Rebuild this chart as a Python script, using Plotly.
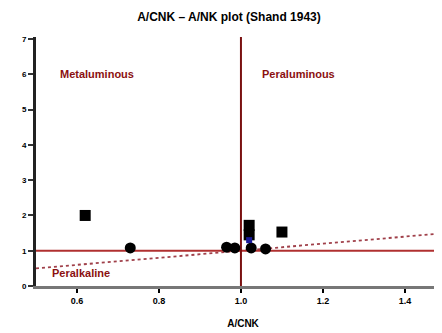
import plotly.graph_objects as go

# Data
acnk = [0.62, 0.73, 0.965, 0.985, 1.02, 1.02, 1.025, 1.06, 1.10]
ank = [2.0, 1.08, 1.10, 1.08, 1.72, 1.45, 1.08, 1.05, 1.53]
symbols = ["square", "circle", "circle", "circle", "square", "square", "circle", "circle", "square"]
blue_x = [1.02]
blue_y = [1.3]
boundary_x = [0.5, 1.52]
boundary_y = [0.5, 1.52]
x_ticks = [0.6, 0.8, 1.0, 1.2, 1.4]
y_ticks = [0, 1, 2, 3, 4, 5, 6, 7]
field_labels = ["Metaluminous", "Peraluminous", "Peralkaline"]
field_x = [0.648, 1.14, 0.61]
field_y = [6.0, 6.0, 0.36]

font = "Liberation Sans, Arial, sans-serif"
dark_red = "#8B1010"

fig = go.Figure()
# boundary lines
fig.add_trace(go.Scatter(x=boundary_x, y=boundary_y, mode="lines",
                         line=dict(color="#A0404A", width=1.8, dash="dot"),
                         hoverinfo="skip", showlegend=False))
fig.add_trace(go.Scatter(x=[0.5, 1.52], y=[1, 1], mode="lines",
                         line=dict(color="#B03030", width=2),
                         hoverinfo="skip", showlegend=False))
fig.add_trace(go.Scatter(x=[1, 1], y=[0, 7.06], mode="lines",
                         line=dict(color="#7A1010", width=2),
                         hoverinfo="skip", showlegend=False))
# samples
fig.add_trace(go.Scatter(x=acnk, y=ank, mode="markers",
                         marker=dict(symbol=symbols, size=11, color="black"),
                         showlegend=False))
fig.add_trace(go.Scatter(x=blue_x, y=blue_y, mode="markers",
                         marker=dict(symbol="square", size=6, color="#1A1A9A"),
                         showlegend=False))

for t, x, y in zip(field_labels, field_x, field_y):
    fig.add_annotation(x=x, y=y, text=t, showarrow=False,
                       font=dict(family=font, size=11, color=dark_red, weight="bold"))

fig.update_layout(
    width=442, height=333,
    margin=dict(l=28, r=0, t=29, b=55),
    paper_bgcolor="white", plot_bgcolor="white",
    title=dict(text="A/CNK – A/NK plot (Shand 1943)", x=0.5, xanchor="center",
               y=0.973, yanchor="middle",
               font=dict(family=font, size=12, color="black", weight="bold")),
    font=dict(family=font, size=9, color="black"),
)
fig.update_xaxes(range=[0.5, 1.51], tickvals=x_ticks, ticktext=[f"{v:.1f}" for v in x_ticks],
                 showgrid=False, zeroline=False, showline=True, linecolor="#777777", linewidth=3,
                 ticks="outside", ticklen=4, tickcolor="black", tickwidth=1.5,
                 tickfont=dict(family=font, size=9, color="black", weight="bold"),
                 title=dict(text="A/CNK", font=dict(family=font, size=10, color="black", weight="bold"),
                            standoff=16))
fig.update_yaxes(range=[0, 7.06], tickvals=y_ticks, ticktext=[str(v) for v in y_ticks],
                 showgrid=False, zeroline=False, showline=True, linecolor="#222222", linewidth=3,
                 ticks="outside", ticklen=5, tickcolor="#333333", tickwidth=1.5,
                 tickfont=dict(family=font, size=8, color="black", weight="bold"))

fig.write_html("out.html")
